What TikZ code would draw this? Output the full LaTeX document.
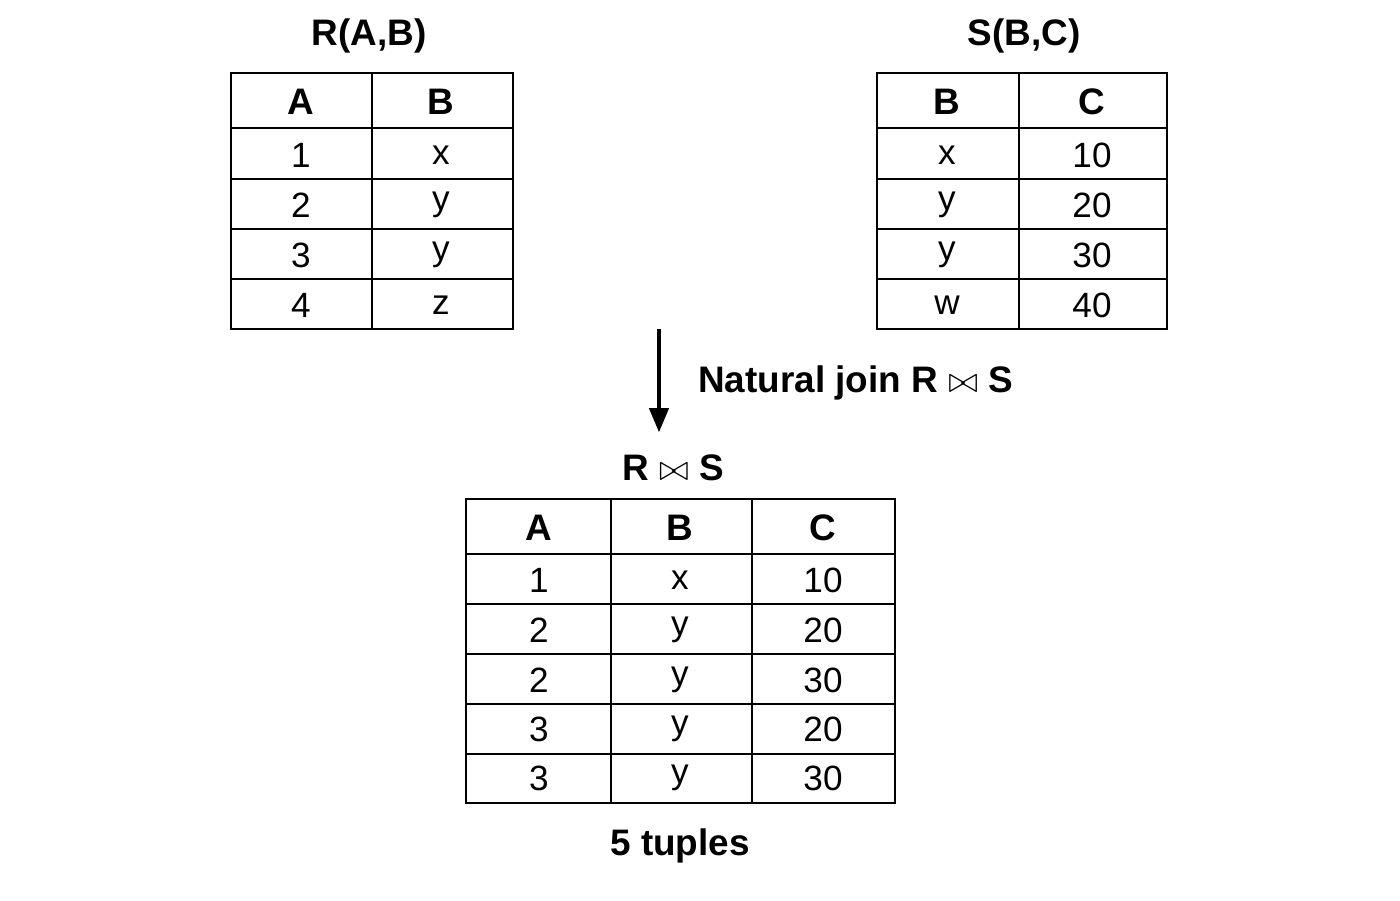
\documentclass[tikz,border=0pt]{standalone}
\usepackage{fontspec}
\setmainfont{Liberation Sans}
\usetikzlibrary{arrows}

\begin{document}
\tikzset{
cell/.style={font=\fontsize{20}{20}\selectfont},
head/.style={font=\fontsize{21}{21}\selectfont\bfseries},
grid/.style={line width=1.4pt}
}
\begin{tikzpicture}[x=0.02cm,y=-0.02cm]
\useasboundingbox (0,0) rectangle (1400,900);
%%% Table R
\draw[grid] (231,73) rectangle (513,329) (372,73) -- (372,329);
\foreach \y in {128,179,229,279}{\draw[grid] (231,\y) -- (513,\y);}
\node[head] (rt) at (369,36) {R(A,B)};
\node[head] (ra) at (301,102) {A};
\node[head] (rb) at (441,102) {B};
\foreach \y/\a/\b in {155/1/x,205/2/y,255/3/y,305/4/z}{
\node[cell] (r\a) at (301,\y) {\a};
\node[cell] at (441,\y) {\b};
}
%%% Table S
\draw[grid] (877,73) rectangle (1167,329) (1019,73) -- (1019,329);
\foreach \y in {128,179,229,279}{\draw[grid] (877,\y) -- (1167,\y);}
\node[head] (st) at (1024,36) {S(B,C)};
\node[head] (sb) at (947,102) {B};
\node[head] (sc) at (1092,102) {C};
\foreach \y/\b/\c in {155/x/10,205/y/20,255/y/30,305/w/40}{
\node[cell] at (947,\y) {\b};
\node[cell] at (1092,\y) {\c};
}
%%% Arrow
\coordinate (top) at (659,329);
\coordinate (bot) at (659,432);
\draw[line width=2.2pt,-triangle 45] (top) -- (bot);
\node[head,anchor=west] (lab) at (692,383) {Natural join R $\bowtie$ S};
%%% Result
\node[head] (jt) at (673,468) {R $\bowtie$ S};
\draw[grid] (466,499) rectangle (895,803) (611,499) -- (611,803) (752,499) -- (752,803);
\foreach \y in {554,604,654,704,754}{\draw[grid] (466,\y) -- (895,\y);}
\node[head] at (539,528) {A};
\node[head] at (680,528) {B};
\node[head] at (823,528) {C};
\foreach \y/\a/\b/\c in {580/1/x/10,630/2/y/20,680/2/y/30,729/3/y/20,778/3/y/30}{
\node[cell] at (539,\y) {\a};
\node[cell] at (680,\y) {\b};
\node[cell] at (823,\y) {\c};
}
\node[head] (cnt) at (680,846) {5 tuples};
\end{tikzpicture}
\end{document}
